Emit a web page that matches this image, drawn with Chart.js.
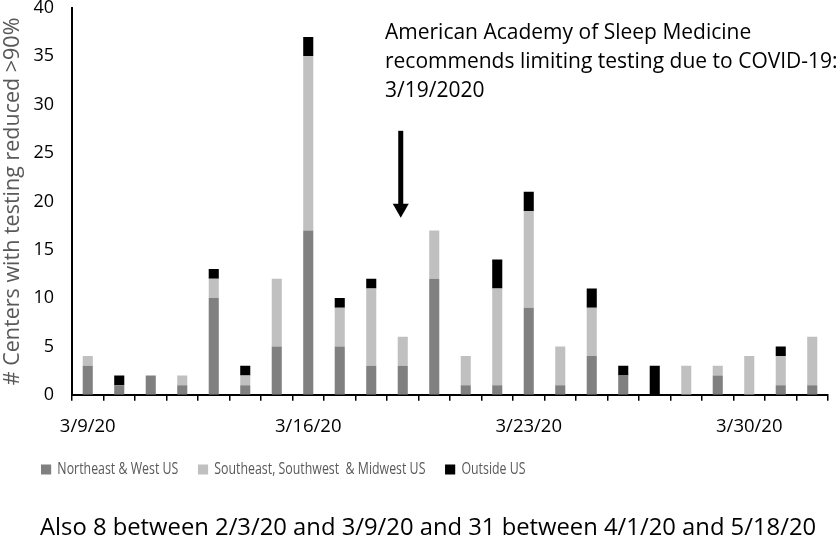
<!DOCTYPE html>
<html>
<head>
<meta charset="utf-8">
<script src="https://cdn.jsdelivr.net/npm/chart.js@4"></script>
<style>
  html, body { margin: 0; padding: 0; background: #fff; }
  #wrap { width: 840px; height: 546px; position: relative; }
</style>
</head>
<body>
<div id="wrap"><canvas id="BarChart"></canvas></div>
<script>
// daily dates, 3/9/20 to 4/1/20
const dates = ["3/9/20", "3/10/20", "3/11/20", "3/12/20", "3/13/20", "3/14/20", "3/15/20", "3/16/20",
  "3/17/20", "3/18/20", "3/19/20", "3/20/20", "3/21/20", "3/22/20", "3/23/20", "3/24/20",
  "3/25/20", "3/26/20", "3/27/20", "3/28/20", "3/29/20", "3/30/20", "3/31/20", "4/1/20"];
const shownDates = ["3/9/20", "3/16/20", "3/23/20", "3/30/20"];

const northeastWest = [3, 1, 2, 1, 10, 1, 5, 17, 5, 3, 3, 12, 1, 1, 9, 1, 4, 2, 0, 0, 2, 0, 1, 1];
const southMidwest  = [1, 0, 0, 1, 2, 1, 7, 18, 4, 8, 3, 5, 3, 10, 10, 4, 5, 0, 0, 3, 1, 4, 3, 5];
const outsideUS     = [0, 1, 0, 0, 1, 1, 0, 2, 1, 1, 0, 0, 0, 3, 2, 0, 2, 1, 3, 0, 0, 0, 1, 0];

const yTicks = [0, 5, 10, 15, 20, 25, 30, 35, 40];

// arrow from the note down to the 3/19 guideline date
const arrowDate = "3/19/20";
const arrowFrom = 27.3;
const arrowTo = 18.3;
const noteLines = ["American Academy of Sleep Medicine",
  "recommends limiting testing due to COVID-19:", "3/19/2020"];
const footNote = "Also 8 between 2/3/20 and 3/9/20 and 31 between 4/1/20 and 5/18/20";

const FONT = "'Open Sans', sans-serif";
const LEGEND_PAD = 27;
const LEGEND_SQUEEZE = 0.727; // legend text in the original is condensed

const notePlugin = {
  id: 'note',
  afterLayout(chart) {
    // legend sits a bit right of the left edge, just under the date labels
    const lg = chart.legend;
    const h = lg.bottom - lg.top;
    const w = lg.right - lg.left;
    lg.left = 41 - LEGEND_PAD; lg.right = lg.left + w;
    lg.top = 434; lg.bottom = 434 + h;
    if (!lg._squeezed) {
      const draw = lg.draw.bind(lg);
      lg.draw = function (area) {
        const c = chart.ctx;
        const x0 = lg.left + LEGEND_PAD;
        c.save();
        c.translate(x0, 0);
        c.scale(LEGEND_SQUEEZE, 1);
        c.translate(-x0, 0);
        draw(area);
        c.restore();
      };
      lg._squeezed = true;
    }
  },
  afterDraw(chart) {
    const c = chart.ctx;
    const x = chart.scales.x.getPixelForValue(dates.indexOf(arrowDate)) - 2;
    const y1 = chart.scales.y.getPixelForValue(arrowFrom);
    const y2 = chart.scales.y.getPixelForValue(arrowTo);
    c.save();
    c.fillStyle = '#000';
    c.fillRect(x - 2.5, y1, 5, (y2 - y1) - 12);
    c.beginPath();
    c.moveTo(x - 8, y2 - 14);
    c.lineTo(x + 8, y2 - 14);
    c.lineTo(x, y2);
    c.closePath();
    c.fill();
    c.font = "21px " + FONT;
    c.textBaseline = 'middle';
    noteLines.forEach((t, i) => c.fillText(t, 385, 33 + i * 29));
    c.font = "23.8px " + FONT;
    c.fillText(footNote, 40, 528);
    c.restore();
  }
};

const ctx = document.getElementById('BarChart').getContext('2d');
let chart = new Chart(ctx, {
  type: 'bar',
  data: {
    labels: dates,
    datasets: [
      { label: "Northeast & West US", data: northeastWest, backgroundColor: '#808080' },
      { label: "Southeast, Southwest  & Midwest US", data: southMidwest, backgroundColor: '#c0c0c0' },
      { label: "Outside US", data: outsideUS, backgroundColor: '#000000' }
    ]
  },
  options: {
    responsive: true,
    maintainAspectRatio: false,
    animation: false,
    barPercentage: 1,
    categoryPercentage: 0.32,
    layout: { padding: { top: 0, right: 12, left: 0, bottom: 39 } },
    plugins: {
      tooltip: { enabled: false },
      legend: {
        position: 'bottom',
        align: 'start',
        labels: {
          font: { family: FONT, size: 17 },
          color: '#595959',
          boxWidth: 14,
          boxHeight: 10,
          padding: LEGEND_PAD
        }
      }
    },
    scales: {
      x: {
        stacked: true,
        border: { color: '#000', width: 2 },
        grid: { offset: true, drawOnChartArea: false, color: '#000', tickLength: 6, lineWidth: 1.5 },
        ticks: {
          autoSkip: false,
          maxRotation: 0,
          color: '#000',
          font: { family: FONT, size: 18.5 },
          padding: 15,
          callback: function (v) {
            const d = this.getLabelForValue(v);
            return shownDates.includes(d) ? d : '';
          }
        }
      },
      y: {
        stacked: true,
        min: 0,
        max: 40,
        border: { color: '#000', width: 2 },
        grid: { display: false },
        afterBuildTicks: (s) => { s.ticks = yTicks.map(v => ({ value: v })); },
        afterFit: (s) => { s.width = 72; s.paddingTop = 8; s.paddingBottom = 0; },
        ticks: { color: '#000', font: { family: FONT, size: 18 }, padding: 10 },
        title: {
          display: true,
          text: "# Centers with testing reduced >90%",
          color: '#595959',
          font: { family: FONT, size: 21.5 },
          padding: 0
        }
      }
    }
  },
  plugins: [notePlugin]
});
</script>
</body>
</html>
